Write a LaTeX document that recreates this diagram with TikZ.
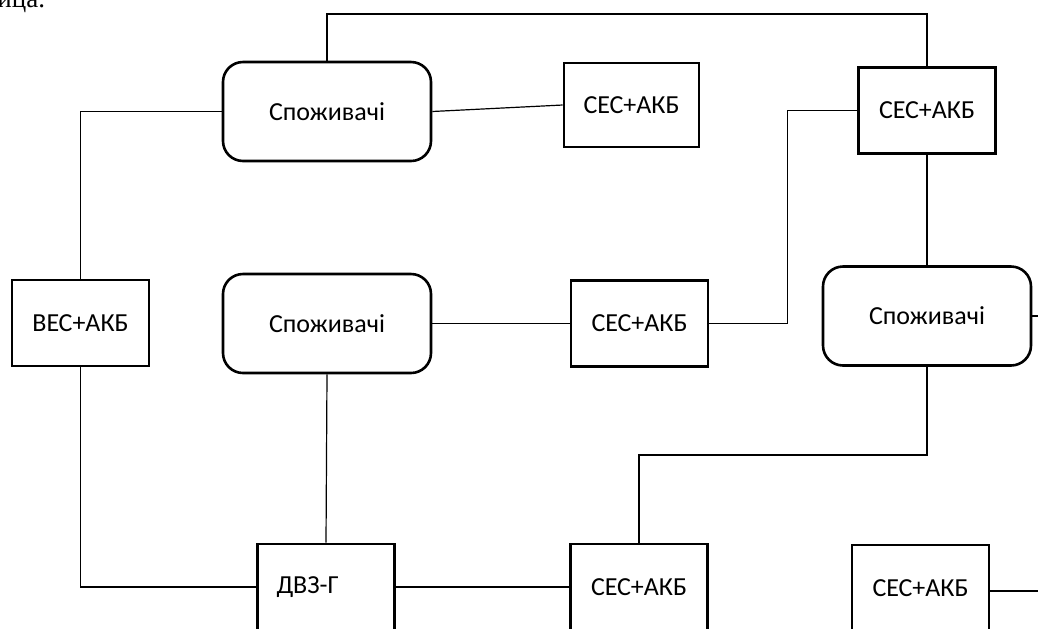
\documentclass[tikz,border=0pt]{standalone}
\usepackage{fontspec}
\setmainfont{Carlito}
\newfontfamily\serifcyr{Liberation Serif}
\usepackage{tikz}
\usetikzlibrary{positioning,calc}

\begin{document}
\begin{tikzpicture}[x=0.5pt,y=-0.5pt,
    box/.style={draw,line width=1.3pt,minimum width=68.5pt,minimum height=43pt,
      inner sep=0pt,font=\fontsize{13}{15}\selectfont},
    cons/.style={box,rounded corners=10pt,minimum width=104pt,minimum height=49.5pt},
    link/.style={line width=0.6pt}]
    \useasboundingbox (0,0) rectangle (1038,628);
    \clip (0,0) rectangle (1038,628);
    % Cut-off caption line
    \node[font=\serifcyr\fontsize{13.5}{16}\selectfont,anchor=base west,inner sep=0pt]
      (cap) at (-3,7){ица.};

    % Consumers
    \node[cons] (cons1) at (327,111.5){Споживачі};
    \node[cons] (cons2) at (327,323.5){Споживачі};
    \node[cons] (cons3) at (927,316){Споживачі};

    % Sources
    \node[box,minimum width=67.5pt,minimum height=42pt] (ses1) at (631.5,105){СЕС+АКБ};
    \node[box] (ses2) at (927,110.5){СЕС+АКБ};
    \node[box] (ves)  at (80.5,323){ВЕС+АКБ};
    \node[box] (ses3) at (639.5,323.5){СЕС+АКБ};
    \node[box,text width=49.5pt,inner xsep=9.5pt,align=left] (dvz) at (326,587){ДВЗ-Г};
    \node[box] (ses4) at (639,587){СЕС+АКБ};
    \node[box] (ses5) at (920.5,588){СЕС+АКБ};

    % Bends and free ends
    \coordinate (topbus) at (627,14);
    \coordinate (midbus) at (780,455);
    \coordinate (edgeA) at (1040,316);
    \coordinate (edgeB) at (1040,591);

    % Connections
    \draw[link] (cons1.north) |- (topbus) -| (ses2.north);
    \draw[link] (cons1.east) -- (ses1.west);
    \draw[link] (cons1.west) -| (ves.north);
    \draw[link] (ves.south) |- (dvz.west);
    \draw[link] (cons2.south) -- (dvz.north);
    \draw[link] (cons2.east) -- (ses3.west);
    \draw[link] (dvz.east) -- (ses4.west);
    \draw[link] (ses3.east) -- ++(78,0) |- (ses2.west);
    \draw[link] (ses2.south) -- (cons3.north);
    \draw[link] (cons3.south) |- (midbus) -| (ses4.north);
    \draw[link] (cons3.east) -- (edgeA);
    \draw[link] (ses5.east |- edgeB) -- (edgeB);
  \end{tikzpicture}
\end{document}
